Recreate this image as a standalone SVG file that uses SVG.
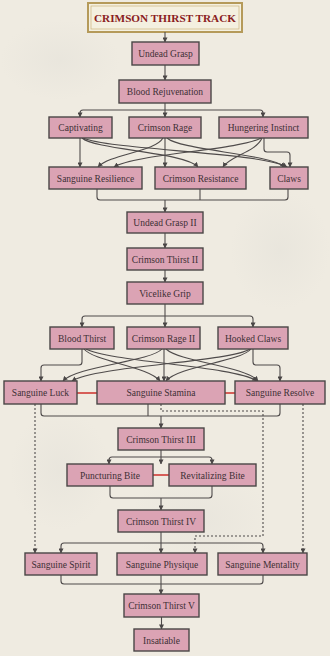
<svg xmlns="http://www.w3.org/2000/svg" width="330" height="656" viewBox="0 0 330 656">
<defs>
<marker id="ah" viewBox="0 0 6 6" refX="5.5" refY="3" markerWidth="5" markerHeight="5" orient="auto" markerUnits="userSpaceOnUse">
<path d="M0,0 L6,3 L0,6 z" fill="#4a4646"/>
</marker>
<radialGradient id="blot" cx="0.5" cy="0.5" r="0.5">
<stop offset="0" stop-color="#dedcd5" stop-opacity="0.35"/>
<stop offset="1" stop-color="#dedcd5" stop-opacity="0"/>
</radialGradient>
</defs>
<style>
.n rect{fill:#dba3b4;stroke:#4a4646;stroke-width:1.4}
.n text{font-family:"Liberation Serif","Times New Roman",serif;font-size:9.5px;fill:#3d3035;text-anchor:middle}
.c path{fill:none;stroke:#4f4b4b;stroke-width:1.1}
.c .a{marker-end:url(#ah)}
.c .d{stroke-dasharray:2 2}
.r{stroke:#d03a35;stroke-width:1.6}
</style>
<rect width="330" height="656" fill="#efebe1"/>
<ellipse cx="60" cy="60" rx="60" ry="40" fill="url(#blot)"/>
<ellipse cx="280" cy="250" rx="50" ry="60" fill="url(#blot)"/>
<ellipse cx="200" cy="520" rx="70" ry="50" fill="url(#blot)"/>
<ellipse cx="60" cy="470" rx="50" ry="60" fill="url(#blot)"/>

<g id="title">
<rect x="88" y="3" width="154" height="29" fill="#f4f0e0" stroke="#b59a5a" stroke-width="2"/>
<rect x="91" y="6" width="148" height="23" fill="none" stroke="#cbb47c" stroke-width="0.7"/>
<text x="165" y="22" font-family="Liberation Serif,serif" font-weight="bold" font-size="11" fill="#8a1c22" text-anchor="middle" textLength="142" lengthAdjust="spacingAndGlyphs">CRIMSON THIRST TRACK</text>
</g>

<g id="connectors" class="c">
<path class="a" d="M165 32 V42"/>
<path class="a" d="M165 65 V80"/>
<path class="a" d="M165 103 V117"/>
<path class="a" d="M165 110 H83 Q80 110 80 113 V117"/>
<path class="a" d="M165 110 H260 Q263 110 263 113 V117"/>
<path class="a" d="M80 138 V167"/>
<path class="a" d="M82 138 C95 150 185 152 198 167"/>
<path class="a" d="M83 138 C110 150 260 152 287 167"/>
<path class="a" d="M165 138 V167"/>
<path class="a" d="M163 138 C155 152 110 154 98 167"/>
<path class="a" d="M167 138 C180 150 270 154 285 167"/>
<path class="a" d="M261 138 C240 150 135 154 114 167"/>
<path class="a" d="M262 138 C256 152 230 156 223 167"/>
<path class="a" d="M264 138 V149 Q264 152 267 152 H287 Q290 152 290 155 V167"/>
<path d="M97 189 V197 Q97 200 100 200 H285 Q288 200 288 197 V189"/>
<path d="M200 189 V200"/>
<path class="a" d="M165 200 V212"/>
<path class="a" d="M165 233 V248"/>
<path class="a" d="M165 270 V282"/>
<path class="a" d="M165 304 V327"/>
<path class="a" d="M165 316 H85 Q82 316 82 319 V327"/>
<path class="a" d="M165 316 H250 Q253 316 253 319 V327"/>
<path class="a" d="M82 349 V362 Q82 365 79 365 H44 Q41 365 41 368 V381"/>
<path class="a" d="M84 349 C95 362 148 366 160 381"/>
<path class="a" d="M86 349 C110 362 235 366 257 381"/>
<path class="a" d="M162 349 C150 362 76 366 63 381"/>
<path class="a" d="M164 349 V381"/>
<path class="a" d="M166 349 C180 362 245 366 258 381"/>
<path class="a" d="M250 349 C230 362 95 366 72 381"/>
<path class="a" d="M251 349 C240 362 178 366 166 381"/>
<path class="a" d="M253 349 V362 Q253 365 256 365 H277 Q280 365 280 368 V381"/>
<path d="M41 404 V413 Q41 416 44 416 H277 Q280 416 280 413 V404"/>
<path d="M148 404 V416"/>
<path class="a" d="M161 416 V428"/>
<path class="a" d="M161 450 V464"/>
<path class="a" d="M161 457 H112 Q109 457 109 460 V464"/>
<path class="a" d="M161 457 H209 Q212 457 212 460 V464"/>
<path d="M110 486 V495 Q110 498 113 498 H209 Q212 498 212 495 V486"/>
<path class="a" d="M161 498 V510"/>
<path class="a" d="M161 532 V553"/>
<path class="a" d="M161 543 H64 Q61 543 61 546 V553"/>
<path class="a" d="M161 543 H260 Q263 543 263 546 V553"/>
<path d="M61 575 V581 Q61 584 64 584 H260 Q263 584 263 581 V575"/>
<path class="a" d="M161 575 V594"/>
<path class="a" d="M161.5 617 V629"/>
<path class="a d" d="M35 404 V553"/>
<path class="a d" d="M303 404 V553"/>
<path class="a d" d="M161 404 V411 H263 V536 H195 V553"/>
<line class="r" x1="77" y1="393" x2="97" y2="393"/>
<line class="r" x1="225" y1="393" x2="235" y2="393"/>
<line class="r" x1="153" y1="475" x2="169" y2="475"/>
</g>

<g id="undead-grasp" class="n"><rect x="132" y="42" width="67" height="23"/><text x="165.5" y="57">Undead Grasp</text></g>
<g id="blood-rejuvenation" class="n"><rect x="119" y="80" width="92" height="23"/><text x="165" y="95">Blood Rejuvenation</text></g>
<g id="captivating" class="n"><rect x="49" y="117" width="63" height="21"/><text x="80.5" y="131">Captivating</text></g>
<g id="crimson-rage" class="n"><rect x="129" y="117" width="72" height="21"/><text x="165" y="131">Crimson Rage</text></g>
<g id="hungering-instinct" class="n"><rect x="219" y="117" width="89" height="21"/><text x="263.5" y="131">Hungering Instinct</text></g>
<g id="sanguine-resilience" class="n"><rect x="49" y="167" width="93" height="22"/><text x="95.5" y="181.5">Sanguine Resilience</text></g>
<g id="crimson-resistance" class="n"><rect x="155" y="167" width="91" height="22"/><text x="200.5" y="181.5">Crimson Resistance</text></g>
<g id="claws" class="n"><rect x="270" y="167" width="38" height="22"/><text x="289" y="181.5">Claws</text></g>
<g id="undead-grasp-ii" class="n"><rect x="127" y="212" width="76" height="21"/><text x="165" y="226">Undead Grasp II</text></g>
<g id="crimson-thirst-ii" class="n"><rect x="127" y="248" width="76" height="22"/><text x="165" y="262.5">Crimson Thirst II</text></g>
<g id="vicelike-grip" class="n"><rect x="127" y="282" width="76" height="22"/><text x="165" y="296.5">Vicelike Grip</text></g>
<g id="blood-thirst" class="n"><rect x="50" y="327" width="64" height="22"/><text x="82" y="341.5">Blood Thirst</text></g>
<g id="crimson-rage-ii" class="n"><rect x="127" y="327" width="73" height="22"/><text x="163.5" y="341.5">Crimson Rage II</text></g>
<g id="hooked-claws" class="n"><rect x="218" y="327" width="70" height="22"/><text x="253" y="341.5">Hooked Claws</text></g>
<g id="sanguine-luck" class="n"><rect x="4" y="381" width="73" height="23"/><text x="40.5" y="396">Sanguine Luck</text></g>
<g id="sanguine-stamina" class="n"><rect x="97" y="381" width="128" height="23"/><text x="161" y="396">Sanguine Stamina</text></g>
<g id="sanguine-resolve" class="n"><rect x="235" y="381" width="90" height="23"/><text x="280" y="396">Sanguine Resolve</text></g>
<g id="crimson-thirst-iii" class="n"><rect x="118" y="428" width="86" height="22"/><text x="161" y="442.5">Crimson Thirst III</text></g>
<g id="puncturing-bite" class="n"><rect x="67" y="464" width="86" height="22"/><text x="110" y="478.5">Puncturing Bite</text></g>
<g id="revitalizing-bite" class="n"><rect x="169" y="464" width="87" height="22"/><text x="212.5" y="478.5">Revitalizing Bite</text></g>
<g id="crimson-thirst-iv" class="n"><rect x="118" y="510" width="86" height="22"/><text x="161" y="524.5">Crimson Thirst IV</text></g>
<g id="sanguine-spirit" class="n"><rect x="25" y="553" width="72" height="22"/><text x="61" y="567.5">Sanguine Spirit</text></g>
<g id="sanguine-physique" class="n"><rect x="117" y="553" width="90" height="22"/><text x="162" y="567.5">Sanguine Physique</text></g>
<g id="sanguine-mentality" class="n"><rect x="218" y="553" width="89" height="22"/><text x="262.5" y="567.5">Sanguine Mentality</text></g>
<g id="crimson-thirst-v" class="n"><rect x="124" y="594" width="75" height="23"/><text x="161.5" y="609">Crimson Thirst V</text></g>
<g id="insatiable" class="n"><rect x="134" y="629" width="55" height="22"/><text x="161.5" y="643.5">Insatiable</text></g>
</svg>
